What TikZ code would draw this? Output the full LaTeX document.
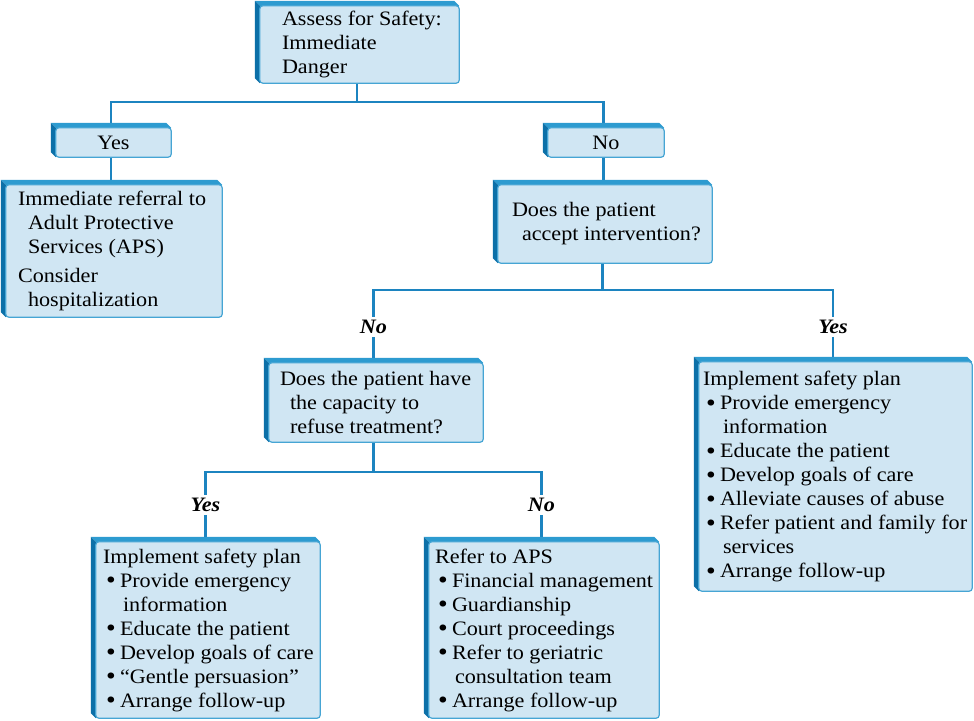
\documentclass[tikz,border=0pt]{standalone}
\usepackage{fontspec}
\setmainfont{Liberation Serif}[FakeStretch=1.08]
\usetikzlibrary{fit}
\definecolor{facec}{RGB}{208,230,243}
\definecolor{edgec}{RGB}{70,165,212}
\definecolor{topbc}{RGB}{45,155,208}
\definecolor{leftbc}{RGB}{12,112,168}
\definecolor{linec}{RGB}{28,132,192}
\pgfdeclarelayer{lines}\pgfdeclarelayer{boxes}
\pgfsetlayers{lines,boxes,main}
\tikzset{
 boxn/.style={inner sep=0pt, draw=none},
 txt/.style={anchor=west, inner sep=0pt, align=left, font=\fontsize{20.5}{24}\selectfont},
 ctxt/.style={inner sep=0pt, font=\fontsize{20.5}{24}\selectfont},
 lab/.style={fill=white, inner sep=3pt, font=\fontsize{20.5}{24}\selectfont\bfseries\itshape},
 conn/.style={draw=linec, line width=2.6pt},
}
\newcommand\abox[5]{%
 \node[boxn, fit={(#2,#3) (#4,#5)}] (#1) {};
 \begin{pgfonlayer}{boxes}
 \fill[topbc] (#1.north west) -- ([xshift=-5pt]#1.north east) -- ([yshift=-5pt]#1.north east) -- ([xshift=5pt,yshift=-5pt]#1.north west) -- cycle;
 \fill[leftbc] (#1.north west) -- ([xshift=5pt,yshift=-5pt]#1.north west) -- ([xshift=5pt]#1.south west) -- ([yshift=5pt]#1.south west) -- cycle;
 \filldraw[fill=facec, draw=edgec, line width=1.2pt, rounded corners=3pt] ([xshift=5pt,yshift=-5pt]#1.north west) rectangle (#1.south east);
 \end{pgfonlayer}}
\newcommand\bul[1]{\makebox[17pt][l]{\hspace{3pt}\raisebox{-1.6pt}[0pt][0pt]{\scalebox{1.25}{\textbullet}}}#1}
\newcommand\cont[1]{\hspace*{20pt}#1}
\begin{document}
\begin{tikzpicture}[x=1pt,y=-1pt]
\useasboundingbox (0,0) rectangle (974,720);
\abox{top}{255}{1}{459}{83}
\abox{yes}{51}{123}{171}{157}
\abox{no}{543}{123}{664}{157}
\abox{lb}{1}{180}{222}{317}
\abox{acc}{493}{180}{712}{263}
\abox{cap}{264}{358}{483}{442}
\abox{rb}{694}{357}{972}{591}
\abox{bl}{91}{537}{320}{718}
\abox{bm}{424}{537}{659}{718}

\node[txt] (topT) at ([xshift=27pt,yshift=-2.5pt]top.west) {Assess for Safety:\\Immediate\\Danger};
\node[ctxt] (yesT) at ([xshift=2.5pt,yshift=-2.5pt]yes.center) {Yes};
\node[ctxt] (noT) at ([xshift=2.5pt,yshift=-2.5pt]no.center) {No};
\node[txt] (lbT) at ([xshift=17pt,yshift=-2.5pt]lb.west) {Immediate referral to\\\hspace*{10pt}Adult Protective\\\hspace*{10pt}Services (APS)\\[5pt]Consider\\\hspace*{10pt}hospitalization};
\node[txt] (accT) at ([xshift=19pt,yshift=-2.5pt]acc.west) {Does the patient\\\hspace*{10pt}accept intervention?};
\node[txt] (capT) at ([xshift=16pt,yshift=-2.5pt]cap.west) {Does the patient have\\\hspace*{10pt}the capacity to\\\hspace*{10pt}refuse treatment?};
\node[txt] (rbT) at ([xshift=9pt,yshift=-2.5pt]rb.west) {Implement safety plan\\\bul{Provide emergency}\\\cont{information}\\\bul{Educate the patient}\\\bul{Develop goals of care}\\\bul{Alleviate causes of abuse}\\\bul{Refer patient and family for}\\\cont{services}\\\bul{Arrange follow-up}};
\node[txt] (blT) at ([xshift=12pt,yshift=-2.5pt]bl.west) {Implement safety plan\\\bul{Provide emergency}\\\cont{information}\\\bul{Educate the patient}\\\bul{Develop goals of care}\\\bul{“Gentle persuasion”}\\\bul{Arrange follow-up}};
\node[txt] (bmT) at ([xshift=11pt,yshift=-2.5pt]bm.west) {Refer to APS\\\bul{Financial management}\\\bul{Guardianship}\\\bul{Court proceedings}\\\bul{Refer to geriatric}\\\cont{consultation team}\\\bul{Arrange follow-up}};

\coordinate (j1) at (top.south |- 0,102);
\coordinate (j2) at (acc.south |- 0,290);
\coordinate (j3) at (cap.south |- 0,472);
\begin{pgfonlayer}{lines}
\draw[conn] (top.south) -- (j1);
\draw[conn] (yes.north) |- (j1) -| (no.north);
\draw[conn] (yes.south) -- (yes.south |- lb.north);
\draw[conn] (no.south) -- (no.south |- acc.north);
\draw[conn] (acc.south) -- (j2);
\draw[conn] (cap.north) |- (j2) -| (rb.north);
\draw[conn] (cap.south) -- (j3);
\draw[conn] (bl.north) |- (j3) -| (bm.north);
\end{pgfonlayer}

\node[lab] (l1) at (cap.north |- 0,327) {No};
\node[lab] (l2) at (rb.north |- 0,327) {Yes};
\node[lab] (l3) at (bl.north |- 0,505) {Yes};
\node[lab] (l4) at (bm.north |- 0,505) {No};
\end{tikzpicture}
\end{document}
